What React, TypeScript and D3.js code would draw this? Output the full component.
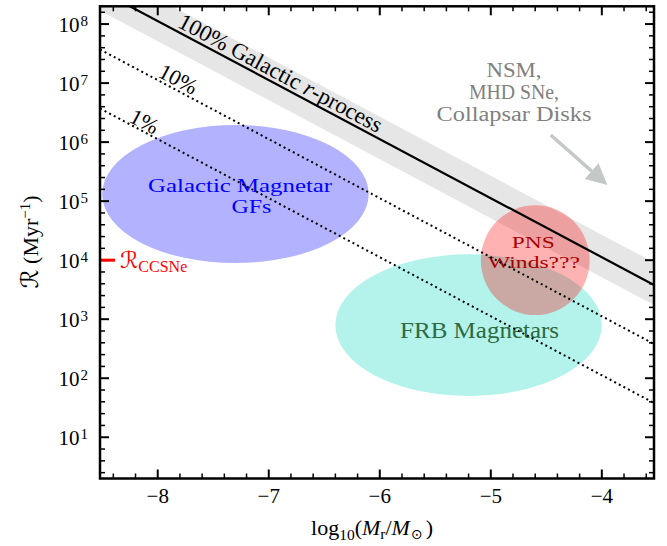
import React from "react";
import * as d3 from "d3";

// ---- data ----
const xTickValues = [-8, -7, -6, -5, -4];
const yTickExponents = [1, 2, 3, 4, 5, 6, 7, 8];
const xDomain = [-8.52, -3.53];
const yDomain = [Math.log10(2), Math.log10(2e8)];

// log10(R) + log10(M) for 100%, 10%, 1% of Galactic r-process
const efficiencyLabels = ["100% Galactic ", "10%", "1%"];
const efficiencyLogOffset = [0.05, -0.95, -1.95];
const efficiencyLabelX = [-7.83, -8.006, -8.268];
const efficiencyLabelLift = [0.08, 0.061, 0.037];
const bandLogOffset = [-0.29, 0.43];

const regionCenterX = [-7.3, -5.2, -4.6];
const regionCenterY = [5.12, 2.9, 4.0];
const regionHalfWidth = [1.2, 1.2, 0.49];
const regionHalfHeight = [1.17, 1.2, 0.93];
const regionFill = ["rgba(0,0,255,0.3)", "rgba(64,224,208,0.4)", "rgba(255,0,0,0.3)"];

const regionTextLines = [["Galactic Magnetar", "GFs"], ["FRB Magnetars"], ["PNS", "Winds???"]];
const regionTextX = [[-7.258, -7.156], [-5.101], [-4.617, -4.611]];
const regionTextY = [[5.163, 4.797], [2.687], [4.201, 3.873]];
const regionTextLen = [[184, 40], [159], [43, 92]];
const regionTextSize = [19.5, 22.5, 17.5];
const regionTextColor = ["#0000ff", "#2d6a3f", "#a80000"];

const channelLines = ["NSM,", "MHD SNe,", "Collapsar Disks"];
const channelLineLen = [55, 90, 155];
const channelX = -4.791;
const channelY = [7.108, 6.731, 6.353];
const arrowFrom = [-4.46, 6.12];
const arrowTo = [-3.95, 5.273];

const ccsneRateExp = 4;

// ---- layout ----
const W = 667;
const H = 546;
const L = 100;
const R = 654;
const T = 6.3;
const B = 478.5;
const SERIF = "'Liberation Serif', 'Times New Roman', serif";
const SCRIPT = "'DejaVu Serif', 'DejaVu Sans', serif";

export default function App() {
  const x = d3.scaleLinear().domain(xDomain).range([L, R]);
  const y = d3.scaleLinear().domain(yDomain).range([B, T]);
  const angle = (Math.atan((y(0) - y(1)) / (x(1) - x(0))) * 180) / Math.PI;

  const lineGen = d3
    .line<[number, number]>()
    .x((d) => x(d[0]))
    .y((d) => y(d[1]));

  const xMinor: number[] = [];
  for (let i = Math.ceil(xDomain[0] * 5); i <= Math.floor(xDomain[1] * 5); i++) {
    if (i % 5 !== 0) xMinor.push(i / 5);
  }
  const yMinor: number[] = [];
  for (let i = Math.ceil(yDomain[0] * 5); i <= Math.floor(yDomain[1] * 5); i++) {
    if (i % 5 !== 0) yMinor.push(i / 5);
  }

  const bandPts: [number, number][] = [
    [xDomain[0], bandLogOffset[0] - xDomain[0]],
    [xDomain[1], bandLogOffset[0] - xDomain[1]],
    [xDomain[1], bandLogOffset[1] - xDomain[1]],
    [xDomain[0], bandLogOffset[1] - xDomain[0]],
  ];

  // arrow geometry
  const ax0 = x(arrowFrom[0]);
  const ay0 = y(arrowFrom[1]);
  const ax1 = x(arrowTo[0]);
  const ay1 = y(arrowTo[1]);
  const alen = Math.hypot(ax1 - ax0, ay1 - ay0);
  const ux = (ax1 - ax0) / alen;
  const uy = (ay1 - ay0) / alen;
  const headL = 21;
  const headW = 10.5;
  const bx = ax1 - ux * headL;
  const by = ay1 - uy * headL;
  const arrowColor = "#c4c9c7";

  const majorLen = 9;
  const minorLen = 5;

  return (
    <svg
      width={W}
      height={H}
      style={{ position: "absolute", left: 0, top: 0, background: "#fff" }}
      fontFamily={SERIF}
    >
      <defs>
        <clipPath id="plotClip">
          <rect x={L} y={T} width={R - L} height={B - T} />
        </clipPath>
      </defs>
      <rect x={0} y={0} width={W} height={H} fill="#fff" />

      <g clipPath="url(#plotClip)">
        <path d={lineGen(bandPts) + "Z"} fill="#e6e6e6" />
        {regionCenterX.map((cx, i) => (
          <ellipse
            key={"reg" + i}
            cx={x(cx)}
            cy={y(regionCenterY[i])}
            rx={x(cx + regionHalfWidth[i]) - x(cx)}
            ry={y(regionCenterY[i] - regionHalfHeight[i]) - y(regionCenterY[i])}
            fill={regionFill[i]}
          />
        ))}
        {regionTextLines.map((lines, i) =>
          lines.map((s, j) => (
            <text
              key={"rt" + i + "_" + j}
              x={x(regionTextX[i][j])}
              y={y(regionTextY[i][j])}
              textAnchor="middle"
              fontSize={regionTextSize[i]}
              fill={regionTextColor[i]}
              textLength={regionTextLen[i][j]}
              lengthAdjust="spacingAndGlyphs"
            >
              {s}
            </text>
          ))
        )}
        {efficiencyLogOffset.map((c, i) => (
          <path
            key={"eff" + i}
            d={lineGen([
              [xDomain[0], c - xDomain[0]],
              [xDomain[1], c - xDomain[1]],
            ]) || ""}
            fill="none"
            stroke="#000"
            strokeWidth={i === 0 ? 2.2 : 2}
            strokeDasharray={i === 0 ? undefined : "2 3.2"}
          />
        ))}
        {efficiencyLabels.map((s, i) => {
          const lx = efficiencyLabelX[i];
          const ly = efficiencyLogOffset[i] - lx + efficiencyLabelLift[i];
          return (
            <text
              key={"effl" + i}
              transform={`translate(${x(lx)},${y(ly)}) rotate(${angle})`}
              fontSize={i === 0 ? 23 : 22}
              fill="#000"
            >
              {s}
              {i === 0 ? (
                <>
                  <tspan fontStyle="italic">r</tspan>
                  <tspan>-process</tspan>
                </>
              ) : null}
            </text>
          );
        })}
        {channelLines.map((s, i) => (
          <text
            key={"ch" + i}
            x={x(channelX)}
            y={y(channelY[i])}
            textAnchor="middle"
            fontSize={20}
            fill="#808080"
            textLength={channelLineLen[i]}
            lengthAdjust="spacingAndGlyphs"
          >
            {s}
          </text>
        ))}
        <line x1={ax0} y1={ay0} x2={bx} y2={by} stroke={arrowColor} strokeWidth={3.5} />
        <polygon
          points={`${ax1},${ay1} ${bx - uy * headW},${by + ux * headW} ${bx + uy * headW},${by - ux * headW}`}
          fill={arrowColor}
        />
      </g>

      {/* ticks */}
      <g stroke="#000">
        {xTickValues.map((v) => (
          <g key={"xt" + v}>
            <line x1={x(v)} x2={x(v)} y1={B} y2={B - majorLen} strokeWidth={2} />
            <line x1={x(v)} x2={x(v)} y1={T} y2={T + majorLen} strokeWidth={2} />
          </g>
        ))}
        {xMinor.map((v) => (
          <g key={"xm" + v}>
            <line x1={x(v)} x2={x(v)} y1={B} y2={B - minorLen} strokeWidth={1.5} />
            <line x1={x(v)} x2={x(v)} y1={T} y2={T + minorLen} strokeWidth={1.5} />
          </g>
        ))}
        {yTickExponents.map((v) => (
          <g key={"yt" + v}>
            <line x1={L} x2={L + majorLen} y1={y(v)} y2={y(v)} strokeWidth={2} />
            <line x1={R} x2={R - majorLen} y1={y(v)} y2={y(v)} strokeWidth={2} />
          </g>
        ))}
        {yMinor.map((v) => (
          <g key={"ym" + v}>
            <line x1={L} x2={L + minorLen} y1={y(v)} y2={y(v)} strokeWidth={1.5} />
            <line x1={R} x2={R - minorLen} y1={y(v)} y2={y(v)} strokeWidth={1.5} />
          </g>
        ))}
      </g>

      {/* CCSNe rate marker */}
      <line
        x1={L}
        x2={L + 15}
        y1={y(ccsneRateExp)}
        y2={y(ccsneRateExp)}
        stroke="#ff0000"
        strokeWidth={3}
      />
      <text x={L + 20} y={y(ccsneRateExp) + 7.7} fill="#ff0000" fontSize={23}>
        <tspan fontFamily={SCRIPT} fontStyle="italic">ℛ</tspan>
        <tspan fontSize={16} dy={4.5}>CCSNe</tspan>
      </text>

      {/* spines */}
      <rect x={L} y={T} width={R - L} height={B - T} fill="none" stroke="#000" strokeWidth={2.5} />

      {/* tick labels */}
      {xTickValues.map((v) => (
        <text key={"xl" + v} x={x(v)} y={503.3} textAnchor="middle" fontSize={21}>
          {"\u2212" + Math.abs(v)}
        </text>
      ))}
      {yTickExponents.map((v) => (
        <g key={"yl" + v}>
          <text x={79.5} y={y(v) + 8.2} textAnchor="end" fontSize={21}>
            10
          </text>
          <text x={80.5} y={y(v) + 1.7} textAnchor="start" fontSize={15}>
            {v}
          </text>
        </g>
      ))}

      {/* axis labels */}
      <text x={372} y={535} textAnchor="middle" fontSize={22}>
        log
        <tspan fontSize={15.5} dy={5}>10</tspan>
        <tspan dy={-5}>(</tspan>
        <tspan fontStyle="italic">M</tspan>
        <tspan fontSize={15.5} dy={4}>r</tspan>
        <tspan dy={-4}>/</tspan>
        <tspan fontStyle="italic">M</tspan>
        <tspan fontSize={14} dy={4} dx={1} fontFamily="'DejaVu Sans', sans-serif">⊙</tspan>
        <tspan dy={-4} dx={3}>)</tspan>
      </text>
      <text transform="translate(37.5,242) rotate(-90)" textAnchor="middle" fontSize={22}>
        <tspan fontFamily={SCRIPT} fontStyle="italic" fontSize={24}>ℛ</tspan>
        <tspan> (Myr</tspan>
        <tspan fontSize={15} dy={-8}>−1</tspan>
        <tspan dy={8}>)</tspan>
      </text>
    </svg>
  );
}
